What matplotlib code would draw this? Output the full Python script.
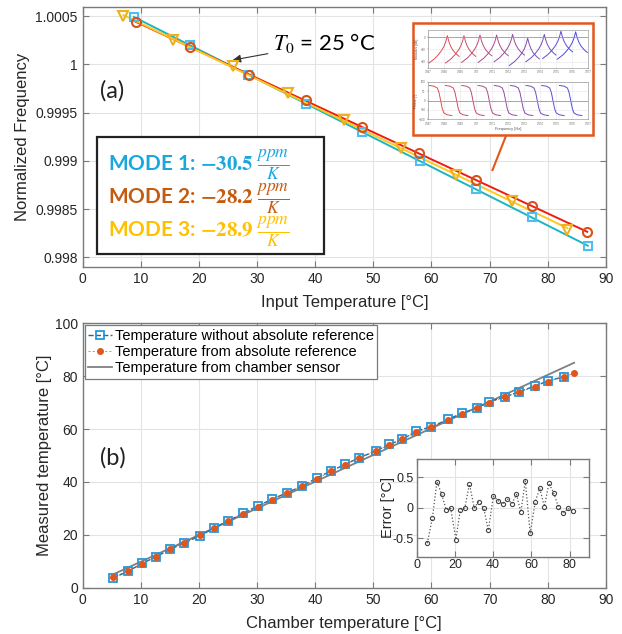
import matplotlib.pyplot as plt
import numpy as np

plt.rcParams['font.family'] = ['Liberation Sans', 'DejaVu Sans']
plt.rcParams['mathtext.fontset'] = 'stix'

# ---- data (a): normalized frequency vs input temperature
mode1_T = [8.8, 18.4, 28.5, 38.4, 48.1, 58.0, 67.6, 77.3, 86.9]
mode1_f = [1.000494, 1.000200, 0.999895, 0.999588, 0.999301, 0.998997, 0.998709, 0.998413, 0.998118]
mode2_T = [9.1, 18.5, 28.6, 38.5, 48.0, 57.9, 67.7, 77.3, 86.8]
mode2_f = [1.000436, 1.000183, 0.999892, 0.999630, 0.999353, 0.999077, 0.998800, 0.998530, 0.998260]
mode3_T = [7.0, 15.6, 25.8, 35.4, 44.9, 54.7, 64.3, 73.9, 83.4]
mode3_f = [1.000501, 1.000252, 0.999982, 0.999699, 0.999422, 0.999135, 0.998852, 0.998582, 0.998288]
mode_labels = [r'MODE 1: $\mathbf{-30.5}$',
               r'MODE 2: $\mathbf{-28.2}$',
               r'MODE 3: $\mathbf{-28.9}$']
unit_label = r'$\frac{ppm}{K}$'

# small inset picture (resonance sweeps)
peak_x = [1.19, 2.23, 3.23, 4.27, 5.27, 6.21, 7.25, 8.29, 9.21]
peak_db = [2.7, 2.7, 3.7, 3.7, 4.8, -1.5, 4.8, 10.0, 9.0]
peak_dx = [-1.15, -0.8, -0.55, -0.35, -0.2, -0.1, -0.04, 0, 0.04, 0.1, 0.2, 0.35, 0.55, 0.73]
peak_shape = [-45, -38, -31, -24, -17, -10, -4, 0, -4, -10, -17, -24, -30, -34]
phase_x = [0.77, 1.77, 2.79, 3.81, 4.83, 5.83, 6.81, 7.79, 8.9]
phase_dx = [-0.7, -0.4, -0.2, -0.1, 0, 0.1, 0.2, 0.4, 0.7]
phase_shape = [80, 76, 66, 42, 0, -42, -66, -76, -80]

# ---- data (b): measured vs chamber temperature
chamber = [5.16, 7.85, 10.25, 12.6, 15.07, 17.5, 20.2, 22.6, 25.0, 27.5, 30.1, 32.5, 35.1,
           37.8, 40.35, 42.65, 45.2, 47.6, 50.4, 52.7, 55.0, 57.4, 60.0,
           62.9, 65.2, 67.8, 69.9, 72.6, 75.1, 77.8, 80.0, 82.8]
meas_rel = [3.55, 6.3, 9.2, 11.7, 14.5, 17.0, 19.6, 22.7, 25.2, 28.1, 30.9, 33.4, 35.9,
            38.5, 41.6, 44.1, 46.7, 49.2, 51.7, 54.2, 56.1, 59.3, 60.9,
            63.7, 66.0, 67.9, 70.3, 72.2, 74.1, 76.3, 78.2, 79.8]
abs_T = chamber + [84.55]
meas_abs = [3.9, 6.4, 9.1, 11.8, 14.6, 17.0, 19.8, 22.6, 25.2, 27.9, 30.7, 33.3, 35.8,
            38.6, 41.3, 44.0, 46.6, 49.1, 51.6, 54.1, 56.2, 59.0, 60.7,
            63.6, 65.8, 67.9, 70.0, 72.1, 74.0, 76.1, 78.0, 79.7, 81.1]
sensor_T = [5.0, 84.55]
sensor_meas = [4.8, 85.1]
err_T = [5.5, 8.2, 10.6, 13.0, 15.4, 17.8, 20.5, 22.8, 25.2, 27.6, 30.1, 32.4, 35.1, 37.5, 40.1, 42.5,
         44.9, 47.3, 49.8, 52.2, 54.5, 56.8, 59.4, 62.0, 64.4, 66.8, 69.2, 71.6, 74.1, 76.7, 79.1, 81.7]
err = [-0.58, -0.17, 0.43, 0.23, -0.03, -0.01, -0.52, -0.03, 0.0, 0.39, 0.0, 0.1, -0.01, -0.37, 0.19, 0.12,
       0.06, 0.15, 0.07, 0.22, -0.07, 0.44, -0.42, 0.1, 0.32, 0.02, 0.40, 0.25, 0.02, -0.09, -0.01, -0.05]


def matlab_style(ax, fs=10):
    ax.grid(True, color='#e3e3e3', lw=0.8)
    ax.set_axisbelow(True)
    for s in ax.spines.values():
        s.set_color('#7a7a7a')
        s.set_linewidth(1.0)
    ax.tick_params(direction='in', top=True, right=True, length=4, width=0.8,
                   color='#7a7a7a', labelsize=fs, labelcolor='#262626')


fig = plt.figure(figsize=(6.22, 6.34), dpi=100)

# ===================== (a)
ax1 = fig.add_axes([0.133, 0.579, 0.841, 0.4106])
matlab_style(ax1)
c_m = ['#4dbeee', '#d95319', '#edb120']
c_l = ['#1cb5c0', '#f01c10', '#ffc81e']
for T, f, cm, cl, mk, ms in [(mode1_T, mode1_f, c_m[0], c_l[0], 's', 5.5),
                             (mode2_T, mode2_f, c_m[1], c_l[1], 'o', 6.5),
                             (mode3_T, mode3_f, c_m[2], c_l[2], 'v', 7.5)]:
    p = np.polyfit(T, f, 1)
    xx = np.array([min(T), max(T)])
    ax1.plot(xx, np.polyval(p, xx), color=cl, lw=1.4, zorder=3)
    ax1.plot(T, f, mk, mfc='none', mec=cm, mew=1.5, ms=ms, zorder=4)

ax1.set_xlim(0, 90)
ax1.set_ylim(0.9979, 1.0006)
ax1.set_xticks(range(0, 91, 10))
ax1.set_yticks([0.998, 0.9985, 0.999, 0.9995, 1.0, 1.0005])
ax1.set_yticklabels(['0.998', '0.9985', '0.999', '0.9995', '1', '1.0005'])
ax1.set_xlabel('Input Temperature [°C]', fontsize=12, color='#262626', labelpad=7)
ax1.set_ylabel('Normalized Frequency', fontsize=12, color='#262626', labelpad=4)

ax1.text(3.0, 0.99973, '(a)', fontsize=17, color='#222222', family='Lato', va='center')
ax1.annotate(r'$T_0$ = 25 °C', xy=(25.8, 1.000045), xytext=(32.8, 1.00022),
             fontsize=16, family='Lato', va='center', color='black',
             arrowprops=dict(arrowstyle='-|>', color='#333333', lw=0.8,
                             mutation_scale=12, shrinkA=2, shrinkB=0))

# mode box
ax1.add_patch(plt.Rectangle((0.027, 0.05), 0.434, 0.45, transform=ax1.transAxes,
                            facecolor='white', edgecolor='#222222', lw=1.6, zorder=5))
for i, (lab, c) in enumerate(zip(mode_labels, ['#1aa7de', '#c55a11', '#ffc000'])):
    t = ax1.text(0.048, 0.395 - i * 0.128, lab, transform=ax1.transAxes, fontsize=15,
                 family='Lato', weight='bold', color=c, va='center', zorder=6)
    ax1.annotate(unit_label, xy=(1, 0.45), xycoords=t, xytext=(2, 0), textcoords='offset points',
                 fontsize=18, color=c, va='center', ha='left', zorder=6)

# resonance picture inset
ax1.plot([70.5, 74.3], [0.998905, 0.999484], color='#e2571c', lw=1.5, zorder=6)
fig.patches.append(plt.Rectangle((413.3 / 622, 1 - 135 / 634), 179.4 / 622, 111.7 / 634,
                                 transform=fig.transFigure, facecolor='white',
                                 edgecolor='#e2571c', lw=1.8, zorder=7))
cols = [plt.matplotlib.colors.to_hex(c) for c in
        np.array([[0.88, 0.3, 0.33]]) * (1 - np.linspace(0, 1, 9))[:, None]
        + np.array([[0.3, 0.3, 0.9]]) * np.linspace(0, 1, 9)[:, None]]
axm = fig.add_axes([428.3 / 622, 1 - 67.7 / 634, 160 / 622, 37.7 / 634], zorder=8)
axp = fig.add_axes([428.3 / 622, 1 - 119.3 / 634, 160 / 622, 37.6 / 634], zorder=8)
for k in range(9):
    axm.plot(peak_x[k] + np.array(peak_dx), peak_db[k] + np.array(peak_shape), color=cols[k], lw=0.7)
    axp.plot(phase_x[k] + np.array(phase_dx), phase_shape, color=cols[k], lw=0.7)
for a, yl, yr in [(axm, 'Modulus [dB]', (-50, 12)), (axp, 'Phase [°]', (-100, 100))]:
    a.set_xlim(0, 10)
    a.set_ylim(*yr)
    a.set_xticks(range(0, 11))
    a.set_xticklabels(['3.967', '3.968', '3.969', '3.97', '3.971', '3.972', '3.973', '3.974',
                       '3.975', '3.976', '3.977'])
    a.grid(True, color='#e6e6e6', lw=0.4)
    a.axhline(0, color='#999999', lw=0.6)
    a.tick_params(labelsize=2, length=1, width=0.3, pad=1, colors='#666666')
    a.set_ylabel(yl, fontsize=2.5, labelpad=1, color='#555555')
    for s in a.spines.values():
        s.set_linewidth(0.4)
        s.set_color('#888888')
axp.set_xlabel('Frequency [Hz]', fontsize=2.8, labelpad=0.5, color='#555555')

# ===================== (b)
ax2 = fig.add_axes([0.133, 0.073, 0.841, 0.417])
matlab_style(ax2)
ax2.plot(chamber, meas_rel, '--s', color='#0072bd', mfc='none', mec='#2b96d6', mew=1.3, ms=6,
         lw=1.0, label='Temperature without absolute reference', zorder=3)
ax2.plot(abs_T, meas_abs, '--o', color='#d95319', mfc='#e0561c', mec='#e0561c', ms=4, lw=0.5,
         dashes=(3, 3), label='Temperature from absolute reference', zorder=4)
ax2.plot(sensor_T, sensor_meas, '-', color='#808080', lw=1.3,
         label='Temperature from chamber sensor', zorder=2)
ax2.set_xlim(0, 90)
ax2.set_ylim(0, 100)
ax2.set_xticks(range(0, 91, 10))
ax2.set_yticks(range(0, 101, 20))
ax2.set_xlabel('Chamber temperature [°C]', fontsize=12, color='#262626', labelpad=7)
ax2.set_ylabel('Measured temperature [°C]', fontsize=12, color='#262626', labelpad=2)
ax2.text(3.0, 49, '(b)', fontsize=17, color='#222222', family='Lato', va='center')
leg = ax2.legend(loc='upper left', bbox_to_anchor=(0.004, 0.992), fontsize=10.5, fancybox=False,
                 framealpha=1, edgecolor='#7a7a7a', handlelength=1.6, handletextpad=0.2,
                 borderpad=0.25, labelspacing=0.15, borderaxespad=0)
leg.get_frame().set_linewidth(0.9)

axi = fig.add_axes([416.7 / 622, 1 - 556.7 / 634, 172 / 622, 97.7 / 634])
matlab_style(axi, fs=9)
axi.plot(err_T, err, ':o', color='#555555', mfc='none', mec='#444444', ms=3, lw=0.9, mew=0.8)
axi.set_xlim(0, 90)
axi.set_ylim(-0.8, 0.8)
axi.set_xticks([0, 20, 40, 60, 80])
axi.set_yticks([-0.5, 0, 0.5])
axi.set_yticklabels(['-0.5', '0', '0.5'])
axi.set_ylabel('Error [°C]', fontsize=10.5, color='#262626', labelpad=-2)
axi.tick_params(pad=2)

fig.savefig('out.png', dpi=100)
